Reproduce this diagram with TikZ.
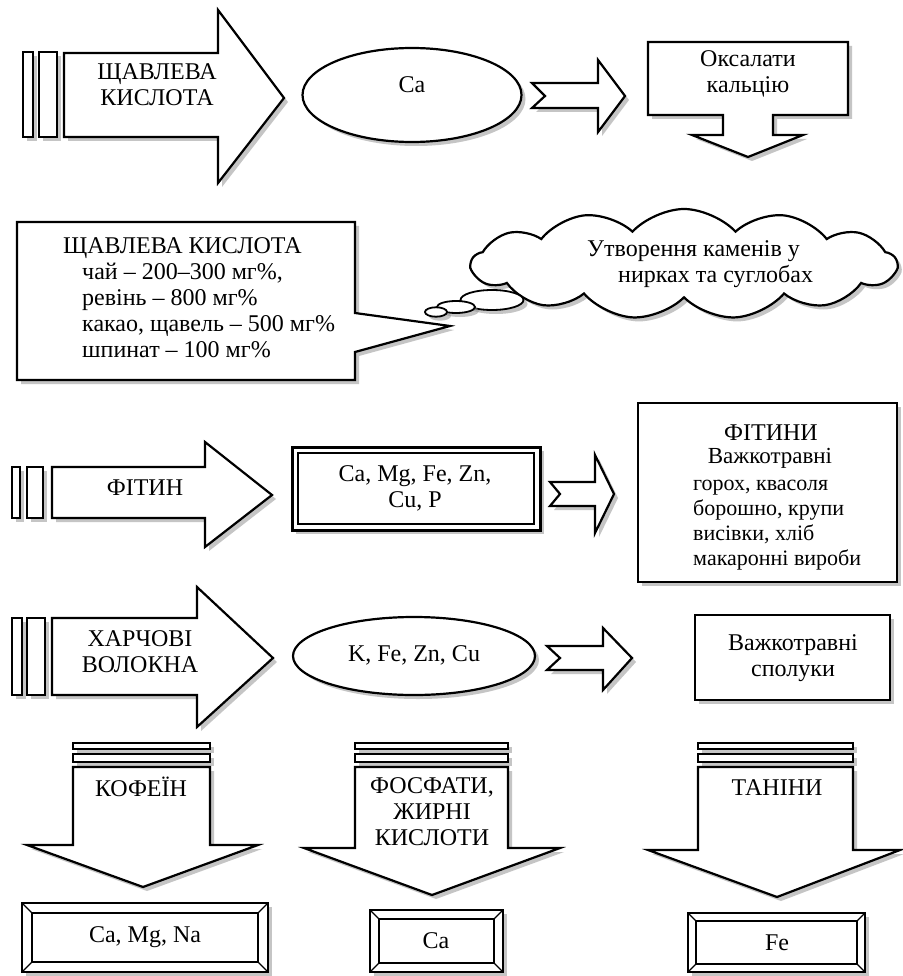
\documentclass[tikz,border=0pt]{standalone}
\usepackage{fontspec}
\setmainfont{Liberation Serif}
\usetikzlibrary{shapes.geometric,shapes.symbols,shadows}
\newcommand{\bevelbx}[5]{%
  \draw[shp,shd] (#1,#2) rectangle (#3,#4);
  \draw[line width=1.4pt] ({#1+#5},{#2+#5}) rectangle ({#3-#5},{#4-#5});
  \draw[line width=1.2pt] (#1,#2) -- ({#1+#5},{#2+#5}) (#3,#2) -- ({#3-#5},{#2+#5})
     (#1,#4) -- ({#1+#5},{#4-#5}) (#3,#4) -- ({#3-#5},{#4-#5});}
\begin{document}
\begin{tikzpicture}[x=1pt,y=-1pt,
  shp/.style={draw=black, line width=2.2pt, fill=white, line join=miter},
  shd/.style={drop shadow={shadow xshift=4pt, shadow yshift=-4pt, fill=black!45}},
  txt/.style={font=\fontsize{24}{26}\selectfont, align=center, inner sep=0pt},
  txl/.style={font=\fontsize{24}{26}\selectfont, align=left, inner sep=0pt, anchor=west},
]
\useasboundingbox (0,0) rectangle (902,976);
\fill[white] (0,0) rectangle (902,976);

% ---------- Row 1 ----------
\draw[shp,shd] (23,52) rectangle (33,137);
\draw[shp,shd] (39,52) rectangle (57,137);
\draw[shp,shd] (64,53) -- (218,53) -- (218,10) -- (284,98) -- (218,183) -- (218,137) -- (64,137) -- cycle;
\node[txt] (acid) at (157,85) {ЩАВЛЕВА\\КИСЛОТА};

\node[ellipse, shp, shd, minimum width=219pt, minimum height=94pt] (ca) at (412,95) {};
\node[txt] (calbl) at (412,85) {Ca};

\draw[shp,shd] (532,83) -- (598,83) -- (598,60) -- (625,96) -- (598,132) -- (598,108) -- (532,108) -- (545,96) -- cycle;

\draw[shp,shd] (648,42) -- (848,42) -- (848,115) -- (773,115) -- (773,135) -- (803,135) -- (748,157) -- (692,135) -- (723,135) -- (723,115) -- (648,115) -- cycle;
\node[txt] (oks) at (748,74) {Оксалати\\кальцію};

% ---------- Row 2 ----------
\draw[shp,shd] (17,222) -- (355,222) -- (355,313) -- (450,326) -- (355,352) -- (355,380) -- (17,380) -- cycle;
\node[txl] (src) at (63,298) {ЩАВЛЕВА КИСЛОТА\\
\hspace*{19pt}чай – 200–300 мг\%,\\
\hspace*{19pt}ревінь – 800 мг\%\\
\hspace*{19pt}какао, щавель – 500 мг\%\\
\hspace*{19pt}шпинат – 100 мг\%};

\node[cloud, shp, shd, cloud puffs=13, cloud puff arc=95, cloud ignores aspect, minimum width=425pt, minimum height=110pt] (cloud) at (684,264) {};
\node[ellipse, shp, shd, line width=1.8pt, minimum width=63pt, minimum height=20pt] (b1) at (492,300) {};
\node[ellipse, shp, shd, line width=1.8pt, minimum width=38pt, minimum height=12pt] (b2) at (456,307) {};
\node[ellipse, shp, shd, line width=1.8pt, minimum width=22pt, minimum height=8pt] (b3) at (436,312) {};
\node[txl] (stones) at (587,264) {Утворення каменів у\\\hspace*{31pt}нирках та суглобах};

% ---------- Row 3 ----------
\draw[shp,shd] (12,467) rectangle (20,518);
\draw[shp,shd] (27,467) rectangle (43,518);
\draw[shp,shd] (52,467) -- (205,467) -- (205,442) -- (272,495) -- (205,547) -- (205,518) -- (52,518) -- cycle;
\node[txt] (fitin) at (145,488) {ФІТИН};

\draw[shp,shd,line width=3pt] (292,447) rectangle (540,530);
\draw[line width=1.3pt] (298,453) rectangle (534,524);
\node[txt] (minerals) at (415,488) {Ca, Mg, Fe, Zn,\\Cu, P};

\draw[shp,shd] (550,482) -- (595,482) -- (595,455) -- (614,494) -- (595,533) -- (595,506) -- (550,506) -- (560,494) -- cycle;

\draw[shp,shd] (638,403) rectangle (897,582);
\node[txt] (fh) at (771,433) {ФІТИНИ};
\node[txt, font=\fontsize{23}{25}\selectfont] (fv) at (770,458) {Важкотравні};
\node[txl, font=\fontsize{22}{25}\selectfont] (fl) at (693,525) {горох, квасоля\\борошно, крупи\\висівки, хліб\\макаронні вироби};

% ---------- Row 4 ----------
\draw[shp,shd] (12,618) rectangle (22,695);
\draw[shp,shd] (27,618) rectangle (45,695);
\draw[shp,shd] (52,618) -- (197,618) -- (197,587) -- (273,658) -- (197,727) -- (197,695) -- (52,695) -- cycle;
\node[txt] (fiber) at (140,652) {ХАРЧОВІ\\ВОЛОКНА};

\node[ellipse, shp, shd, minimum width=242pt, minimum height=78pt] (kfe) at (414,656) {};
\node[txt] (kfelbl) at (414,655) {K, Fe, Zn, Cu};

\draw[shp,shd] (547,646) -- (603,646) -- (603,628) -- (632,658) -- (603,690) -- (603,670) -- (547,670) -- (560,658) -- cycle;

\draw[shp,shd] (695,615) rectangle (890,700);
\node[txt] (hard) at (793,658) {Важкотравні\\сполуки};

% ---------- Row 5 ----------
\draw[shp,shd] (73,743) rectangle (210,749);
\draw[shp,shd] (73,754) rectangle (210,762);
\draw[shp,shd] (73,767) -- (210,767) -- (210,845) -- (258,845) -- (143,887) -- (27,845) -- (73,845) -- cycle;
\node[txt] (coffee) at (141,787) {КОФЕЇН};
\bevelbx{22}{903}{268}{972}{10}
\node[txt] (camgna) at (145,937) {Ca, Mg, Na};

\draw[shp,shd] (355,743) rectangle (508,749);
\draw[shp,shd] (355,754) rectangle (508,762);
\draw[shp,shd] (355,767) -- (508,767) -- (508,848) -- (560,848) -- (432,895) -- (304,848) -- (355,848) -- cycle;
\node[txt] (phos) at (432,812) {ФОСФАТИ,\\ЖИРНІ\\КИСЛОТИ};
\bevelbx{370}{910}{503}{972}{9}
\node[txt] (cab) at (436,941) {Ca};

\draw[shp,shd] (698,743) rectangle (853,749);
\draw[shp,shd] (698,754) rectangle (853,762);
\draw[shp,shd] (698,767) -- (853,767) -- (853,850) -- (900,850) -- (777,897) -- (648,850) -- (698,850) -- cycle;
\node[txt] (tan) at (777,788) {ТАНІНИ};
\bevelbx{688}{913}{865}{972}{8}
\node[txt] (fe) at (777,943) {Fe};
\end{tikzpicture}
\end{document}
